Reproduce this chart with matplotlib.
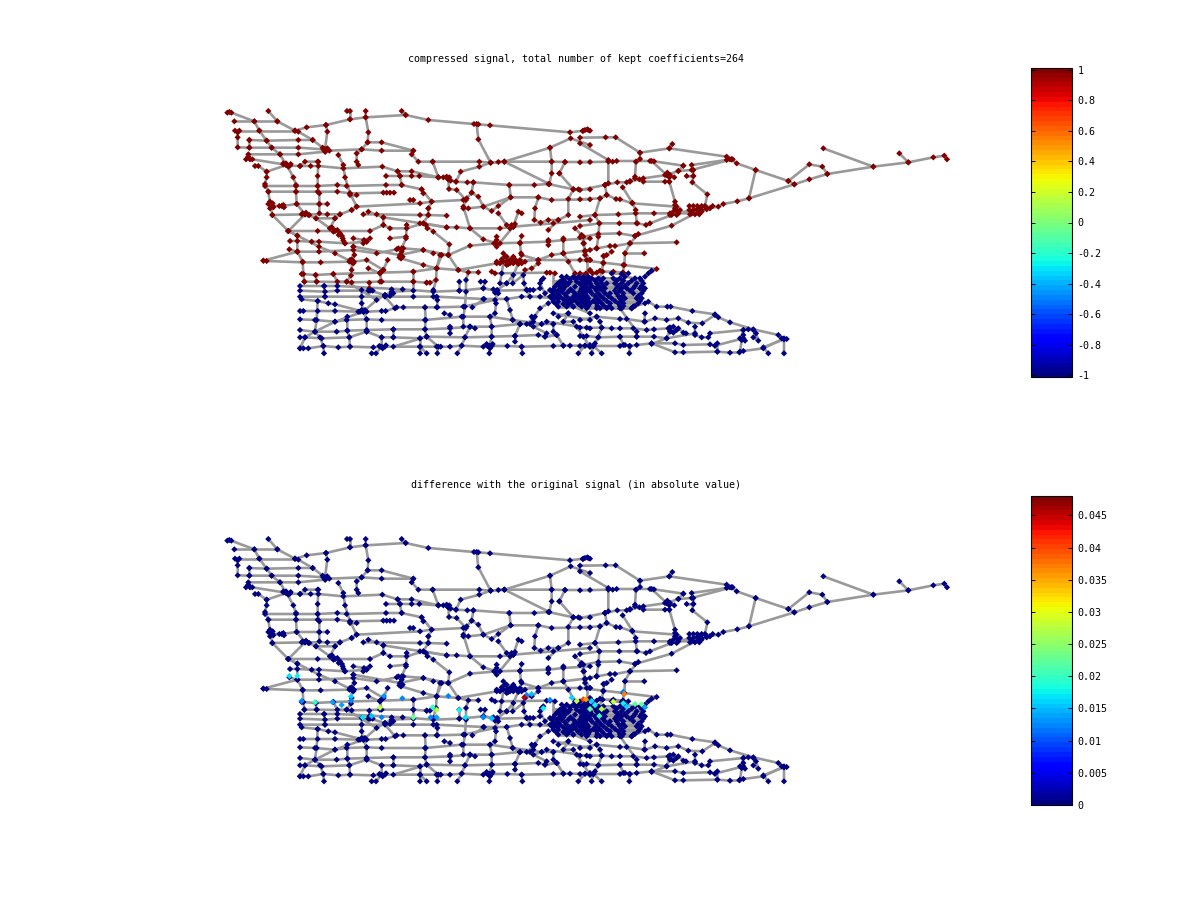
#!/usr/bin/env python3
# -*- coding: utf-8 -*-
import numpy as np
import matplotlib
matplotlib.use("Agg")
import matplotlib.pyplot as plt

# ---------- data, digitised in map units ----------
TITLE_TOP = "compressed signal, total number of kept coefficients=264"
TITLE_BOTTOM = "difference with the original signal (in absolute value)"
TICKS_TOP = [-1, -0.8, -0.6, -0.4, -0.2, 0, 0.2, 0.4, 0.6, 0.8, 1]
TICKLABELS_TOP = ["-1", "-0.8", "-0.6", "-0.4", "-0.2", "0", "0.2", "0.4", "0.6", "0.8", "1"]
TICKS_BOTTOM = [0, 0.005, 0.01, 0.015, 0.02, 0.025, 0.03, 0.035, 0.04, 0.045]
TICKLABELS_BOTTOM = ["0", "0.005", "0.01", "0.015", "0.02", "0.025", "0.03", "0.035", "0.04", "0.045"]
EAST_SHIFT = 1080  # the east sheet starts this far along x

# north roads, west sheet
north_west = [
    [(22,38),(28,36),(34,38),(103,64),(118,92),(140,122),(155,143),(180,163),(198,195)],
    [(43,64),(103,64),(172,64)],
    [(145,33),(172,64),(225,92),(235,95),(278,120),(315,148)],
    [(225,92),(260,82),(318,75),(390,58),(437,52),(557,45),(625,60),(762,72),(775,73),(810,76),(1050,97),(1090,92),(1105,90)],
    [(545,33),(557,45)],
    [(381,33),(390,33),(390,58)],
    [(437,33),(437,52),(445,97),(443,127),(425,148),(410,160),(410,185),(415,195)],
    [(318,75),(322,95),(315,148)],
    [(770,72),(775,118),(812,188),(853,185),(990,143),(1052,115),(1110,135)],
    [(45,92),(58,92),(118,92),(225,92)],
    [(88,120),(140,122),(235,120),(278,120)],
    [(53,97),(53,112),(53,142),(88,143),(155,143),(235,143),(310,148),(318,150),(328,152),(425,148),(485,152),(580,152)],
    [(88,120),(88,143)],
    [(443,127),(485,127),(580,152),(575,163),(595,185),(638,185),(778,185),(812,188),(835,186),(853,185),(995,185),(1035,186),(1110,186)],
    [(638,185),(655,232)],
    [(85,163),(180,163),(235,163),(315,155)],
    [(78,178),(85,170),(90,178),(97,178),(190,193),(200,195),(210,197),(240,198),(272,198),(295,198),(370,205),(487,200),(533,214),(575,214),(655,232),(670,232),(685,238)],
    [(105,198),(115,198),(140,215),(140,232),(135,252),(145,275),(150,310),(157,345),(205,393),(232,407)],
    [(140,215),(200,195)],
    [(200,195),(220,232),(228,255),(228,275),(230,312),(255,343)],
    [(295,185),(293,228),(293,258),(298,280),(298,312),(298,340)],
    [(240,198),(255,185),(293,185)],
    [(355,165),(370,195),(375,232),(390,280),(410,320)],
    [(498,228),(540,228),(575,228),(598,228),(655,232)],
    [(533,214),(540,228),(545,255),(605,268),(635,305),(625,325)],
    [(135,258),(228,258),(293,258),(352,255),(380,258),(498,255),(545,255)],
    [(145,275),(228,275),(293,275),(352,275),(390,280),(490,278),(500,278),(510,278),(522,278)],
    [(390,285),(410,285)],
    [(605,268),(610,280)],
    [(685,238),(687,267),(710,270),(738,300),(730,320),(750,385),(790,418),(830,430)],
    [(685,238),(708,245),(722,215),(778,200),(812,188)],
    [(708,245),(742,247),(760,247),(868,255),(943,255),(985,252),(1060,268),(1075,268),(1110,268)],
    [(990,143),(995,185),(995,220),(988,252)],
    [(853,185),(988,252)],
    [(1018,220),(1035,186)],
    [(1018,220),(1060,268)],
    [(868,255),(872,292),(835,318),(815,333),(790,320),(775,290),(755,278),(760,247)],
    [(755,278),(740,295)],
    [(730,325),(745,325),(790,320),(872,292),(955,292),(995,300),(1110,298)],
    [(150,312),(158,318),(185,318),(230,312),(298,312),(322,312)],
    [(395,330),(410,320),(600,310),(635,305),(730,300)],
    [(570,300),(580,300)],
    [(835,340),(860,375),(870,385),(880,380),(895,335),(905,340)],
    [(157,345),(255,343),(322,343),(360,343)],
    [(430,343),(470,343),(600,345),(625,345),(680,347)],
    [(625,325),(625,345),(610,370),(640,395),(688,433),(685,465)],
    [(255,343),(205,393)],
    [(245,343),(265,345),(288,355),(345,355),(360,343),(395,330)],
    [(345,355),(330,385),(345,392),(360,400),(368,415),(375,430)],
    [(288,355),(330,385)],
    [(205,393),(293,393),(345,393),(450,393),(490,375),(510,385),(560,385),(610,370),(680,382),(710,382),(750,385),(840,385),(880,380),(1000,370),(1110,360)],
    [(445,335),(490,352),(490,375)],
    [(490,352),(680,382)],
    [(955,292),(945,325),(943,360),(962,368),(985,360),(1015,360),(1045,345),(1045,297),(1060,268)],
    [(560,375),(558,415),(545,445),(543,475)],
    [(510,415),(558,410)],
    [(400,415),(432,420),(450,415),(430,430),(440,425)],
    [(210,423),(232,423),(275,425),(297,425),(375,430),(440,425)],
    [(232,407),(232,455),(248,485),(250,522),(253,545)],
    [(205,393),(297,440),(345,460),(395,485)],
    [(208,448),(232,455),(297,455),(400,450),(470,460),(530,448),(550,445),(610,450),(640,460)],
    [(130,482),(232,455)],
    [(130,482),(140,483),(248,487),(302,487),(388,485),(402,485),(440,480),(490,510)],
    [(400,440),(403,465),(395,485),(395,510),(393,527),(380,545)],
    [(400,440),(540,465),(610,450),(685,465),(750,437),(830,430),(900,428),(985,425),(1030,420),(1110,415)],
    [(490,510),(503,480)],
    [(490,510),(480,520),(485,545)],
    [(445,505),(480,520)],
    [(543,475),(610,495),(650,505),(660,465),(685,465),(715,510),(745,517),(775,517)],
    [(665,465),(650,505),(648,540),(630,548),(620,548)],
    [(245,522),(287,525),(340,522),(480,518),(580,515),(650,505),(715,510),(830,490)],
    [(253,545),(290,545),(395,547),(480,545),(580,545),(620,548)],
    [(287,525),(290,545)],
    [(340,522),(352,545),(380,545)],
    [(448,548),(448,565)],
    [(580,515),(580,545)],
    [(830,410),(830,420),(822,430),(830,430),(840,430),(830,440),(880,380)],
    [(905,408),(900,430),(903,460)],
    [(850,460),(860,485),(830,485),(840,490),(850,485),(870,480),(880,490),(890,485),(900,480),(915,485)],
    [(860,470),(870,490),(860,495),(880,470)],
    [(985,390),(1015,360)],
    [(985,420),(985,435)],
    [(1030,415),(1030,460),(1045,485),(1065,520)],
    [(1065,385),(1085,405),(1090,430),(1095,455),(1110,480)],
    [(1030,460),(1110,450)],
    [(905,465),(955,480),(995,465),(1030,460)],
    [(860,485),(955,480),(1110,480)],
    [(955,480),(955,490),(935,505),(915,510)],
    [(815,515),(825,520),(980,518),(990,518),(1005,520)],
    [(1110,510)],
    [(880,380),(885,372),(875,375)],
    # small knots of close nodes
    [(145,312),(150,305),(158,310),(150,325),(160,322)],
    [(178,318),(190,315),(192,322)],
    [(248,340),(258,338),(268,345)],
    [(190,190),(198,190),(205,200),(212,192)],
    [(308,143),(316,155),(322,145)],
    [(336,382),(340,395),(352,390),(356,405),(366,408),(370,422)],
    [(680,230),(692,242),(688,232)],
    [(535,445),(545,455),(548,470),(538,472)],
    [(390,480),(400,490),(395,478)],
    [(600,370),(618,375),(622,385)],
    [(845,478),(855,470),(865,492),(875,478),(885,478),(895,492),(905,490)],
]

# south roads, west sheet
south_west = [
    [(240,558),(313,558),(352,558),(548,568),(640,575),(718,572),(790,565),(830,572),(920,570)],
    [(240,572),(315,575),(352,572),(450,572),(495,585),(515,575),(580,572)],
    [(240,590),(315,590),(425,590),(580,590),(650,590),(790,597),(860,597),(905,590),(960,590),(1000,590)],
    [(245,598),(293,603),(325,610),(345,613),(430,635)],
    [(240,633),(250,633),(293,633),(345,633),(420,635),(440,635),(485,633),(497,633),(530,622),(550,622),(615,622),(650,622),(730,620),(825,600)],
    [(240,658),(285,660),(345,665),(380,660),(440,658),(485,660),(615,660),(725,650),(810,650),(878,660),(965,672),(1000,672)],
    [(240,690),(285,695),(350,695),(382,692),(440,690),(520,688),(615,688),(690,685),(750,680),(815,680),(900,672)],
    [(240,712),(255,712),(305,715),(388,712),(440,695),(485,712),(520,712),(600,715),(620,710),(735,712),(815,710),(885,708),(955,705),(975,710),(1010,705)],
    [(240,745),(250,745),(265,745),(310,738),(355,742),(390,740),(460,742),(480,740),(495,740),(600,740),(650,740),(662,740),(690,740),(725,737),(790,740),(802,738),(815,738),(862,738),(905,740),(1000,738),(1030,737),(1050,737),(1095,737),(1110,740)],
    [(312,760),(310,738),(300,712),(285,695),(290,660),(293,603)],
    [(240,745),(255,712),(285,695),(345,665),(430,635),(470,600),(495,585),(515,580)],
    [(312,558),(315,590)],
    [(382,650),(382,692),(388,712),(390,740)],
    [(425,570),(425,610),(430,635),(440,658),(440,695)],
    [(445,572),(458,572)],
    [(485,712),(485,740),(468,760),(455,760)],
    [(495,590),(525,625)],
    [(600,715),(600,740),(600,760)],
    [(620,760),(600,740)],
    [(640,570),(640,590),(652,600),(652,622)],
    [(615,622),(617,660),(615,688),(620,710),(655,740),(652,760)],
    [(520,712),(520,688)],
    [(520,740),(620,710)],
    [(690,680),(690,700)],
    [(738,540),(738,575),(735,620),(730,650),(730,680),(750,680),(735,712),(725,737),(712,760)],
    [(765,685),(750,680)],
    [(673,640),(690,645)],
    [(718,545),(718,572)],
    [(757,622),(792,597)],
    [(782,545),(795,545),(790,565),(830,572),(828,610),(825,640),(810,650),(815,680),(815,710),(808,738),(808,760)],
    [(845,520),(840,550),(860,550),(880,525),(878,550),(910,525),(912,550),(920,570),(930,590)],
    [(832,570),(860,550)],
    [(860,597),(870,630),(878,660),(900,672),(920,672),(940,655),(960,625),(985,610)],
    [(885,708),(900,672)],
    [(885,708),(885,725)],
    [(905,740),(907,760)],
    [(975,710),(1010,705),(1030,737)],
    [(965,540),(960,565),(940,570),(930,570),(920,570)],
    [(970,535),(960,550),(975,580),(990,570)],
    [(1045,640),(1030,665),(1060,665),(1070,680),(1090,710),(1110,740)],
    [(1000,672),(1000,695),(1010,705)],
    [(965,672),(940,680),(980,700)],
    [(935,650),(945,650),(940,665),(930,672)],
    [(1075,760),(1095,737)],
    [(1015,650),(1045,640)],
    # small knots of close nodes
    [(515,568),(520,580),(510,588)],
    [(415,635),(425,630),(435,630)],
    [(478,738),(488,745),(498,736)],
    [(800,732),(810,745),(818,732)],
    [(825,578),(835,580),(820,568)],
    # metro grid
    [(1025,530),(1040,530),(1060,530),(1075,530),(1090,530),(1105,530)],
    [(1030,538),(1050,538),(1068,538),(1085,538),(1100,538)],
    [(1020,545),(1035,545),(1050,545),(1070,545),(1090,545),(1105,545)],
    [(1012,552),(1030,552),(1045,552),(1080,552),(1100,552)],
    [(1005,560),(1020,560),(1035,560),(1065,560),(1095,560)],
    [(1000,568),(1018,568),(1030,568),(1052,568),(1085,568),(1105,568)],
    [(995,575),(1010,575),(1025,575),(1045,575),(1060,575),(1080,575),(1100,575)],
    [(1000,583),(1015,583),(1035,583),(1068,583),(1090,583)],
    [(990,590),(1005,590),(1020,590),(1040,590),(1060,590),(1075,590),(1095,590)],
    [(998,598),(1012,598),(1030,598),(1050,598),(1065,598),(1082,598),(1102,598)],
    [(1000,605),(1015,605),(1040,605),(1055,605),(1070,605),(1085,605),(1105,605)],
    [(1008,612),(1030,612),(1048,612),(1075,612),(1095,612)],
    [(1015,620),(1040,620),(1060,620),(1085,620),(1100,620)],
    [(1060,620),(1110,640)],
    [(1000,640),(1110,660)],
    [(980,665),(1110,685)],
]

# north roads, east sheet
north_east = [
    [(8,93),(15,90),(22,88),(30,92)],
    [(0,113),(77,112),(107,112),(180,158),(180,177),(168,185)],
    [(0,130),(85,180),(85,250),(75,255)],
    [(0,187),(85,185),(98,185),(110,183),(210,183),(222,184),(310,197)],
    [(180,158),(268,145),(277,132)],
    [(268,145),(440,170),(450,178),(458,178)],
    [(168,185),(165,230)],
    [(215,183),(260,225)],
    [(455,178),(335,210),(295,213),(260,225),(190,235),(150,245)],
    [(440,180),(335,195),(340,210),(340,228),(337,247),(382,283),(375,318)],
    [(310,197),(295,213)],
    [(320,228),(340,228)],
    [(0,270),(75,255),(112,247),(140,247),(150,243),(165,235),(178,238),(190,245),(255,245),(268,245)],
    [(255,225),(262,218),(268,232),(270,225),(283,232)],
    [(268,245),(285,305),(290,330),(270,345)],
    [(128,262),(157,308),(167,330),(170,370)],
    [(75,255),(80,285),(60,295),(45,345),(58,370),(55,410),(50,445)],
    [(0,298),(60,295),(80,285),(108,297),(120,298),(157,310),(290,320)],
    [(0,350),(45,345),(115,343),(167,340),(222,340),(270,340),(335,340)],
    [(0,378),(58,370),(118,370),(172,370),(198,375),(210,370),(275,345),(355,325)],
    [(0,412),(55,402),(118,400),(165,408),(275,377),(355,335)],
    [(165,408),(175,402),(150,430),(135,460),(133,495),(128,518)],
    [(150,430),(290,427)],
    [(10,410),(12,430),(15,465),(20,480)],
    [(50,445),(90,438),(105,438),(150,430)],
    [(50,445),(15,452)],
    [(135,460),(193,460)],
    [(70,468),(80,465),(95,455)],
    [(70,490),(72,468)],
    [(0,480),(70,488),(130,495),(230,507)],
    [(280,335),(285,325),(295,340),(300,330),(290,345),(285,315)],
    # harbour cluster
    [(328,318),(340,318),(352,318),(365,318),(378,322),(398,318)],
    [(328,330),(340,330),(352,328),(365,330),(380,328),(390,325)],
    [(330,343),(345,343),(358,343),(365,335)],
    [(355,330),(415,320),(430,312),(472,304),(507,295),(643,253),(688,238),(742,222),(880,200),(985,187),(1060,172),(1093,167),(1101,178)],
    [(625,243),(643,253)],
    [(455,178),(470,190),(527,210),(625,243),(688,193),(727,200),(742,222)],
    [(527,210),(507,295)],
    [(730,145),(880,200)],
    [(958,160),(985,187)],
    [(0,520),(18,520),(30,512),(38,520),(50,518),(60,512),(68,515),(100,515),(130,518)],
]

# south roads, east sheet
south_east = [
    [(160,620),(195,610),(205,605),(230,620),(262,620),(272,620),(337,633),(405,643),(415,652),(450,667),(520,688),(595,705),(605,715),(620,717)],
    [(0,660),(50,650),(120,657),(140,657),(195,665),(225,655),(260,660),(295,655),(325,668),(367,670),(405,645)],
    [(0,683),(20,683),(65,683),(95,685),(120,685),(160,685),(200,690),(222,688),(265,685)],
    [(270,682),(280,680),(290,690),(270,695),(280,698),(295,685),(310,698),(318,700)],
    [(345,680),(345,705),(365,712),(385,712),(390,700),(490,690),(505,688),(520,690)],
    [(0,708),(20,708),(55,712),(120,710),(170,710),(222,710),(260,715),(345,700)],
    [(0,738),(30,735),(40,738),(120,738),(135,735),(150,738),(170,735),(215,730),(285,730),(310,735),(390,733),(405,737)],
    [(215,730),(285,757),(310,757),(412,755),(450,758),(478,757),(490,753),(550,745),(612,715)],
    [(35,760),(40,738)],
    [(65,760),(40,738)],
    [(148,760),(148,738)],
    [(565,760),(550,742),(612,718),(612,760)],
    [(485,720),(490,690),(480,755)],
    [(480,715),(490,705),(495,722)],
    [(520,712),(535,722),(528,700)],
    [(270,690),(260,715),(215,732)],
    [(120,710),(130,735)],
    [(195,640),(193,665)],
    [(50,650),(60,665),(65,683),(55,712),(45,730)],
    [(412,730),(412,755)],
    [(405,737),(490,715)],
    [(160,620),(155,625),(120,625),(170,695),(170,710)],
    [(215,512),(205,520),(195,530)],
    # metro grid
    [(5,535),(20,535),(35,535),(55,535),(70,535),(100,535),(120,535),(135,530),(165,535),(180,535)],
    [(12,542),(28,542),(45,542),(62,542),(110,542),(130,542),(155,542),(185,542)],
    [(0,550),(15,550),(30,550),(50,550),(65,550),(80,550),(105,550),(125,550),(145,550),(170,550),(190,550)],
    [(10,558),(35,558),(55,558),(70,558),(115,558),(135,558),(165,558),(185,558)],
    [(5,565),(25,565),(45,565),(60,565),(75,565),(110,565),(125,565),(140,565),(160,565),(180,565),(195,565)],
    [(12,572),(30,572),(50,572),(68,572),(105,572),(120,572),(150,572),(190,572)],
    [(0,580),(15,580),(35,580),(55,580),(75,580),(90,580),(110,580),(130,580),(160,580),(185,580)],
    [(8,588),(20,588),(45,588),(62,588),(85,588),(115,588),(128,588),(175,588)],
    [(10,595),(25,595),(50,595),(70,595),(95,595),(120,595),(135,595),(170,595),(185,595)],
    [(5,603),(20,603),(40,603),(58,603),(80,603),(105,603),(125,603),(180,603)],
    [(15,610),(30,610),(50,610),(65,610),(90,610),(115,610),(130,610),(175,610)],
    [(25,618),(52,618),(72,618),(88,618),(120,618),(130,618),(165,618)],
    [(20,625),(50,625),(60,625),(80,625),(95,625),(125,625),(155,625)],
    [(95,520),(125,522),(145,520)],
]

# plain road links between the two halves of the map, no node on them
links_west = [
    [(1000,520),(1000,570)], [(1065,520),(1060,560)], [(895,490),(880,525)], [(850,490),(845,520)],
    [(745,517),(738,540)], [(648,540),(640,570)], [(580,545),(580,572)], [(448,565),(448,575)],
    [(352,545),(352,558)], [(380,545),(470,600)], [(1110,530),(1000,545)], [(1110,600),(930,590)],
]
links_east = [
    [(128,518),(130,535)], [(70,490),(60,535)], [(230,507),(195,530)], [(20,480),(20,535)],
]

# nodes that stand out in the difference panel, west sheet units
diff_x = [208,232,245,285,338,365,393,393,480,492,485,428,455,547,580,632,650,638,650,685,718,737,790,815,790,815,935,920,913,1055,1070,1090,1098,1115,1125,1145,1210,1213,1180,1210,1245,1265,1275,1138,970,990,1220,1110]
diff_y = [444,444,519,523,523,531,506,518,539,504,568,568,564,511,568,568,546,538,568,504,546,568,568,571,568,571,498,501,508,509,519,514,514,519,531,543,491,498,521,526,528,529,538,564,541,516,536,543]
diff_vals = [0.017,0.018,0.012,0.020,0.014,0.014,0.016,0.012,0.027,0.013,0.012,0.017,0.015,0.012,0.023,0.012,0.027,0.020,0.014,0.012,0.018,0.017,0.017,0.015,0.012,0.015,0.015,0.012,0.045,0.016,0.028,0.040,0.036,0.016,0.018,0.027,0.012,0.037,0.028,0.018,0.022,0.023,0.014,0.020,0.018,0.012,0.016,0.022]
diff_background = 0.0005

# ---------- helpers ----------
W, H = 1200, 901

def px_axes(fig, left, top, right, bottom):
    return fig.add_axes([left / W, 1 - bottom / H, (right - left) / W, (bottom - top) / H])

def shifted(roads, dx):
    return [[(x + dx, y) for x, y in road] for road in roads]

def road_nodes(roads):
    return [pt for road in roads for pt in road]

def draw_roads(ax, roads):
    for road in roads:
        xs, ys = zip(*road)
        ax.plot(xs, ys, color='#999999', lw=1.9, solid_capstyle='round', zorder=1)

def draw_bar(fig, top, bottom, vmin, vmax, ticks, labels, cmap):
    cax = px_axes(fig, 1031, top, 1072, bottom)
    sm = plt.cm.ScalarMappable(norm=plt.Normalize(vmin, vmax), cmap=cmap)
    cb = fig.colorbar(sm, cax=cax)
    cb.set_ticks(ticks, labels=labels)
    cb.minorticks_off()
    cb.outline.set_linewidth(0.8)
    cax.set_axisbelow(False)
    cax.yaxis.set_ticks_position('both')
    cax.tick_params(axis='y', which='major', direction='in', labelleft=False, labelright=True,
                    length=3, width=0.7, labelsize=7.2, pad=4)
    for t in cax.get_yticklabels():
        t.set_family('DejaVu Sans Mono')
    return cax

# ---------- main plot ----------
east_north = shifted(north_east, EAST_SHIFT)
east_south = shifted(south_east, EAST_SHIFT)
all_roads = north_west + south_west + east_north + east_south + links_west + shifted(links_east, EAST_SHIFT)

north_nodes = road_nodes(north_west) + road_nodes(east_north)
south_nodes = road_nodes(south_west) + road_nodes(east_south)
nodes = np.array(north_nodes + south_nodes, dtype=float)
compressed = np.r_[np.ones(len(north_nodes)), -np.ones(len(south_nodes))]

fig = plt.figure(figsize=(W / 100, H / 100), dpi=100)
cmap = plt.get_cmap('jet', 64)

panels = [
    (68, 377, TITLE_TOP, 4.2),
    (496, 805, TITLE_BOTTOM, 5.6),
]
axes = []
for top, bottom, title, pad in panels:
    ax = px_axes(fig, 150, top, 1002, bottom)
    ax.set_xlim(-210, 2346)
    ax.set_ylim(831, -96)
    ax.axis('off')
    ax.set_title(title, family='DejaVu Sans Mono', fontsize=7.2, pad=pad)
    draw_roads(ax, all_roads)
    axes.append(ax)

axes[0].scatter(nodes[:, 0], nodes[:, 1], c=compressed, cmap=cmap, vmin=-1.01, vmax=1.01,
                marker='D', s=10, linewidths=0, zorder=2)
axes[1].scatter(nodes[:, 0], nodes[:, 1], c=np.full(len(nodes), diff_background), cmap=cmap,
                vmin=0, vmax=0.048, marker='D', s=10, linewidths=0, zorder=2)
axes[1].scatter(diff_x, diff_y, c=diff_vals, cmap=cmap, vmin=0, vmax=0.048,
                marker='D', s=10, linewidths=0, zorder=3)

draw_bar(fig, 68, 377, -1.01, 1.01, TICKS_TOP, TICKLABELS_TOP, cmap)
draw_bar(fig, 496, 805, 0, 0.048, TICKS_BOTTOM, TICKLABELS_BOTTOM, cmap)

fig.savefig('out.png', dpi=100)
